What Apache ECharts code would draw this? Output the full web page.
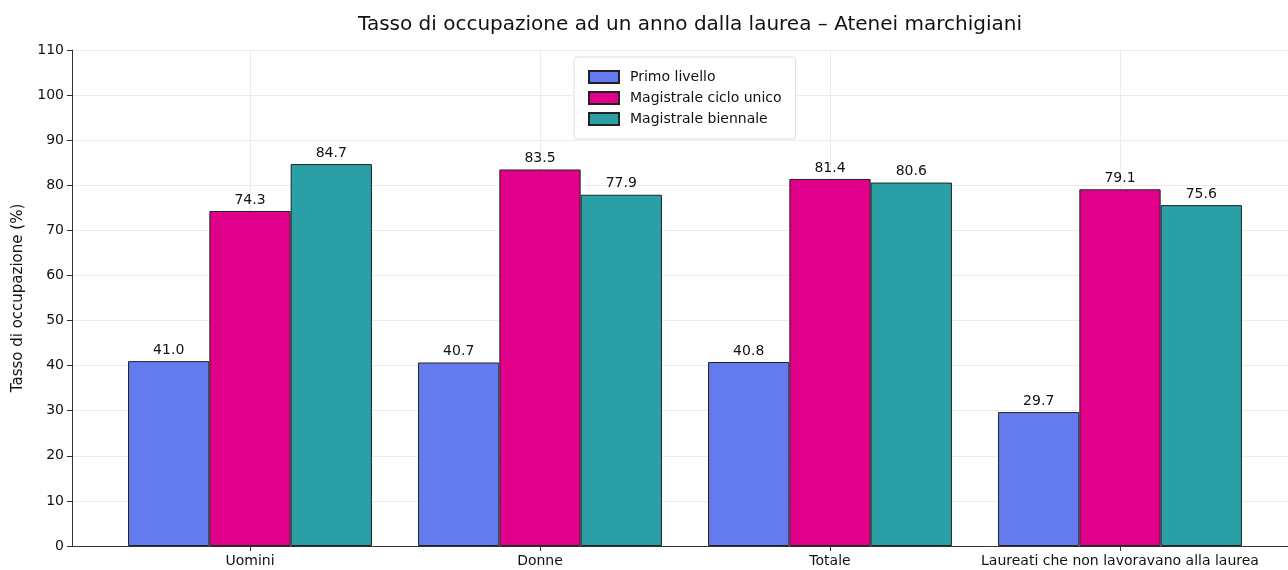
<!DOCTYPE html>
<html>
<head>
<meta charset="utf-8">
<title>Tasso di occupazione</title>
<script src="https://cdn.jsdelivr.net/npm/echarts@6/dist/echarts.min.js"></script>
<style>
  html, body { margin: 0; padding: 0; background: #fff; }
  #chart { width: 1288px; height: 570px; }
</style>
</head>
<body>
<div id="chart"></div>
<script>
// categorie e valori
const categories = ['Uomini', 'Donne', 'Totale', 'Laureati che non lavoravano alla laurea'];
const seriesNames = ['Primo livello', 'Magistrale ciclo unico', 'Magistrale biennale'];
const primoLivello = [41.0, 40.7, 40.8, 29.7];
const cicloUnico = [74.3, 83.5, 81.4, 79.1];
const biennale = [84.7, 77.9, 80.6, 75.6];
const colors = ['#647AEF', '#E0008A', '#2A9FA6'];

const FONT = 'DejaVu Sans';
const chart = echarts.init(document.getElementById('chart'));

function barSeries(name, data, color) {
  return {
    name: name,
    type: 'bar',
    xAxisIndex: 0,
    yAxisIndex: 0,
    data: data,
    barWidth: 81.3,
    barGap: '0%',
    itemStyle: { color: color, borderColor: '#222', borderWidth: 1 },
    label: {
      show: true,
      position: 'top',
      distance: 4,
      formatter: p => p.value.toFixed(1),
      fontFamily: FONT,
      fontSize: 14,
      color: '#111'
    }
  };
}

chart.setOption({
  animation: false,
  textStyle: { fontFamily: FONT },
  title: {
    text: 'Tasso di occupazione ad un anno dalla laurea – Atenei marchigiani',
    left: 685,
    textAlign: 'center',
    top: 10,
    textStyle: { fontFamily: FONT, fontSize: 20, fontWeight: 'normal', color: '#111' }
  },
  legend: {
    data: seriesNames,
    orient: 'vertical',
    left: 574,
    top: 57,
    padding: [13, 14, 13, 14],
    itemWidth: 30,
    itemHeight: 12,
    itemGap: 7,
    icon: 'rect',
    backgroundColor: '#fff',
    borderColor: '#dddddd',
    borderWidth: 1,
    borderRadius: 3,
    textStyle: { fontFamily: FONT, fontSize: 14, color: '#111', padding: [0, 0, 0, 6] }
  },
  grid: [
    { left: 105, right: 23, top: 50, bottom: 24 },
    { left: 72, right: 0, top: 50, bottom: 24 }
  ],
  xAxis: [
    {
      type: 'category',
      gridIndex: 0,
      data: categories,
      axisLine: { show: false },
      axisTick: { show: true, alignWithLabel: true, length: 5, lineStyle: { color: '#333' } },
      axisLabel: { fontFamily: FONT, fontSize: 14, color: '#111', margin: 8, interval: 0 },
      splitLine: { show: true, alignWithLabel: true, lineStyle: { color: '#ececec', width: 1 } }
    },
    {
      type: 'value',
      gridIndex: 1,
      min: 0,
      max: 1,
      axisLine: { show: true, onZero: false, lineStyle: { color: '#333', width: 1 } },
      axisTick: { show: false },
      axisLabel: { show: false },
      splitLine: { show: false }
    }
  ],
  yAxis: [
    {
      type: 'value',
      gridIndex: 0,
      min: 0,
      max: 110,
      interval: 10,
      axisLine: { show: false },
      axisTick: { show: false },
      axisLabel: { show: false },
      splitLine: { show: false }
    },
    {
      type: 'value',
      gridIndex: 1,
      min: 0,
      max: 110,
      interval: 10,
      name: 'Tasso di occupazione (%)',
      nameLocation: 'middle',
      nameGap: 46,
      nameTextStyle: { fontFamily: FONT, fontSize: 15, color: '#111' },
      axisLine: { show: true, lineStyle: { color: '#333', width: 1 } },
      axisTick: { show: true, length: 5, lineStyle: { color: '#333' } },
      axisLabel: { fontFamily: FONT, fontSize: 14, color: '#111', margin: 8 },
      splitLine: { show: true, lineStyle: { color: '#ececec', width: 1 } }
    }
  ],
  series: [
    barSeries(seriesNames[0], primoLivello, colors[0]),
    barSeries(seriesNames[1], cicloUnico, colors[1]),
    barSeries(seriesNames[2], biennale, colors[2])
  ]
});
</script>
</body>
</html>
